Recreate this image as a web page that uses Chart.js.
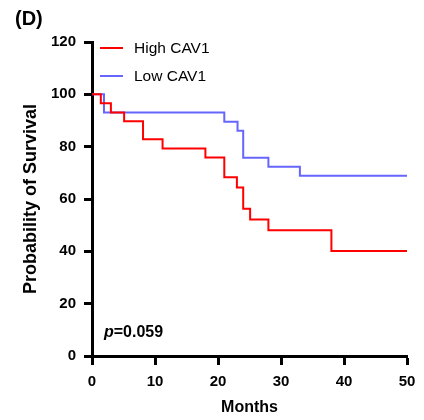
<!DOCTYPE html>
<html>
<head>
<meta charset="utf-8">
<script src="https://cdn.jsdelivr.net/npm/chart.js@4.4.1/dist/chart.umd.min.js"></script>
<style>
    html, body { margin: 0; padding: 0; background: #fff; }
    #wrap { width: 424px; height: 420px; position: relative; }
</style>
</head>
<body>
<div id="wrap"><canvas id="kmChart" width="424" height="420"></canvas></div>
<script>
// Survival curve data
const highMonths = [0, 1.4, 3.0, 5.1, 8.1, 11.2, 18.0, 21.0, 23.0, 24.0, 25.1, 28.0, 38.0, 50];
const highSurv   = [100, 96.6, 93.1, 89.7, 82.8, 79.3, 75.9, 68.3, 64.4, 56.3, 52.2, 48.1, 40.1, 40.1];
const lowMonths  = [0, 1.9, 21.0, 23.1, 24.0, 28.0, 33.0, 50];
const lowSurv    = [100, 93.1, 89.5, 86.1, 75.8, 72.3, 68.9, 68.9];

const seriesNames = ['High CAV1', 'Low CAV1'];
const seriesColors = ['#ff0000', '#6666ff'];
const xTicks = [0, 10, 20, 30, 40, 50];
const yTicks = [0, 20, 40, 60, 80, 100, 120];
const pText = '=0.059';

const FONT = '"Liberation Sans", Arial, sans-serif';

function toPoints(xs, ys) {
    return xs.map((x, i) => ({ x: x, y: ys[i] }));
}

// Draws panel label, legend and p-value
const annotations = {
    id: 'annotations',
    afterDraw(chart) {
        const ctx = chart.ctx;
        ctx.save();
        ctx.fillStyle = '#000';
        ctx.textBaseline = 'middle';

        ctx.font = 'bold 20px ' + FONT;
        ctx.fillText('(D)', 15, 19);

        // legend
        ctx.font = '15.5px ' + FONT;
        const rows = [48, 76];
        seriesNames.forEach((name, i) => {
            ctx.strokeStyle = seriesColors[i];
            ctx.lineWidth = 2;
            ctx.beginPath();
            ctx.moveTo(100, rows[i]);
            ctx.lineTo(123, rows[i]);
            ctx.stroke();
            ctx.fillStyle = '#000';
            ctx.fillText(name, 134, rows[i] + 1);
        });

        // p value
        ctx.textBaseline = 'alphabetic';
        ctx.font = 'italic bold 16px ' + FONT;
        ctx.fillText('p', 104, 337);
        const pw = ctx.measureText('p').width;
        ctx.font = 'bold 16px ' + FONT;
        ctx.fillText(pText, 104 + pw, 337);
        ctx.restore();
    }
};

const ctx = document.getElementById('kmChart').getContext('2d');
new Chart(ctx, {
    type: 'line',
    data: {
        datasets: [
            {
                label: seriesNames[0],
                data: toPoints(highMonths, highSurv),
                borderColor: seriesColors[0],
                borderWidth: 2,
                stepped: true,
                pointRadius: 0,
                fill: false
            },
            {
                label: seriesNames[1],
                data: toPoints(lowMonths, lowSurv),
                borderColor: seriesColors[1],
                borderWidth: 2,
                stepped: true,
                pointRadius: 0,
                fill: false
            }
        ]
    },
    options: {
        responsive: false,
        animation: false,
        layout: { padding: { top: 42, right: 17, left: 20, bottom: 0 } },
        plugins: {
            legend: { display: false },
            tooltip: { enabled: false }
        },
        scales: {
            x: {
                type: 'linear',
                min: 0,
                max: 50,
                afterBuildTicks: (scale) => { scale.ticks = xTicks.map(v => ({ value: v })); },
                afterFit: (scale) => { scale.height = 64; },
                border: { display: true, color: '#000', width: 3 },
                grid: { drawOnChartArea: false, drawTicks: true, tickLength: 9, tickWidth: 3, tickColor: '#000' },
                ticks: { color: '#000', padding: 8, font: { family: FONT, size: 15, weight: 'bold' }, maxRotation: 0 },
                title: { display: true, text: 'Months', color: '#000', padding: { top: 4, bottom: 3 }, font: { family: FONT, size: 16, weight: 'bold' } }
            },
            y: {
                type: 'linear',
                min: 0,
                max: 120,
                afterBuildTicks: (scale) => { scale.ticks = yTicks.map(v => ({ value: v })); },
                afterFit: (scale) => { scale.width = 72; },
                border: { display: true, color: '#000', width: 3 },
                grid: { drawOnChartArea: false, drawTicks: true, tickLength: 8, tickWidth: 3, tickColor: '#000' },
                ticks: { color: '#000', padding: 8, font: { family: FONT, size: 15, weight: 'bold' } },
                title: { display: true, text: 'Probability of Survival', color: '#000', padding: { top: 0, bottom: 6 }, font: { family: FONT, size: 18, weight: 'bold' } }
            }
        }
    },
    plugins: [annotations]
});
</script>
</body>
</html>
